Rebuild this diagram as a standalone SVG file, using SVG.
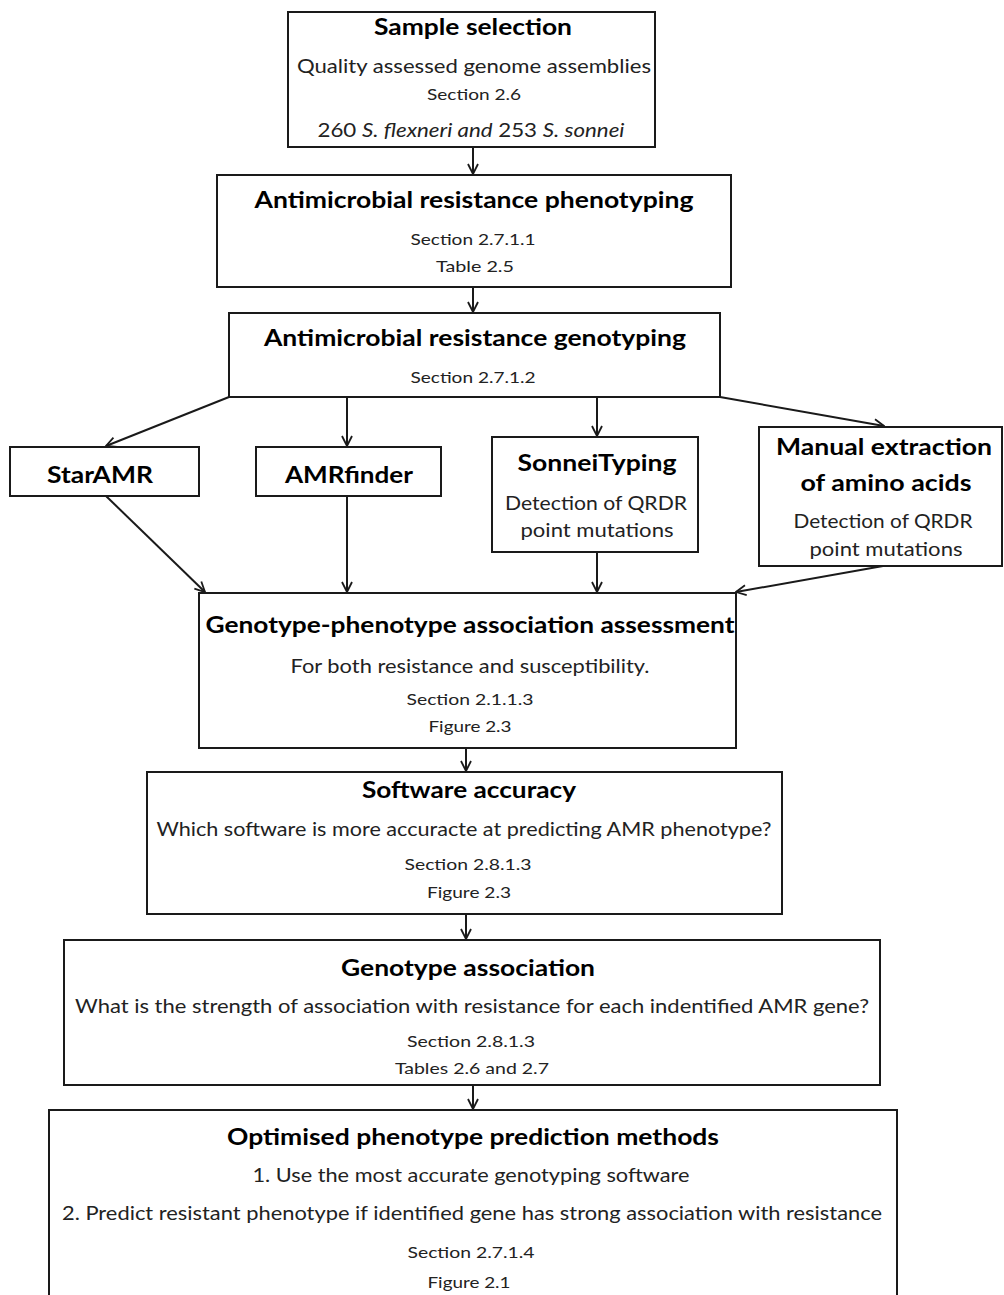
<svg xmlns="http://www.w3.org/2000/svg" width="1004" height="1295" viewBox="0 0 1004 1295">
<style>
.box{fill:#fff;stroke:#1a1a1a;stroke-width:2}
text{font-family:Lato,"Open Sans","Liberation Sans",sans-serif;text-anchor:middle}
.t{font-size:22px;font-weight:bold;fill:#000}
.b{font-size:19px;fill:#222}
.s{font-size:16px;fill:#222}
.it{font-style:italic}
.c{stroke:#1a1a1a;stroke-width:2;fill:none;marker-end:url(#ah)}
</style>
<defs>
<marker id="ah" viewBox="0 0 12 12" refX="11" refY="6" markerWidth="12" markerHeight="12" markerUnits="userSpaceOnUse" orient="auto">
<path d="M1,1 L11,6 L1,11" fill="none" stroke="#1a1a1a" stroke-width="1.8"/>
</marker>
</defs>
<rect width="1004" height="1295" fill="#fff"/>
<g id="connectors">
<line class="c" x1="473" y1="147" x2="473" y2="174"/>
<line class="c" x1="473" y1="287" x2="473" y2="312"/>
<line class="c" x1="229" y1="397" x2="106" y2="446"/>
<line class="c" x1="347" y1="397" x2="347" y2="446"/>
<line class="c" x1="597" y1="397" x2="597" y2="436"/>
<line class="c" x1="720" y1="397" x2="884" y2="426"/>
<line class="c" x1="106" y1="496" x2="205" y2="592"/>
<line class="c" x1="347" y1="496" x2="347" y2="592"/>
<line class="c" x1="597" y1="552" x2="597" y2="592"/>
<line class="c" x1="883" y1="566" x2="736" y2="592"/>
<line class="c" x1="466" y1="748" x2="466" y2="771"/>
<line class="c" x1="466" y1="914" x2="466" y2="939"/>
<line class="c" x1="473" y1="1085" x2="473" y2="1109"/>
</g>
<g id="sample-selection">
<rect class="box" x="288" y="12" width="367" height="135"/>
<text class="t" x="473" y="35" textLength="198" lengthAdjust="spacingAndGlyphs">Sample selection</text>
<text class="b" x="474" y="73" textLength="354" lengthAdjust="spacingAndGlyphs">Quality assessed genome assemblies</text>
<text class="s" x="474" y="100" textLength="94" lengthAdjust="spacingAndGlyphs">Section 2.6</text>
<text class="b" x="471" y="137" textLength="307" lengthAdjust="spacingAndGlyphs">260 <tspan class="it">S. flexneri and</tspan> 253 <tspan class="it">S. sonnei</tspan></text>
</g>
<g id="amr-phenotyping">
<rect class="box" x="217" y="175" width="514" height="112"/>
<text class="t" x="474" y="208" textLength="439" lengthAdjust="spacingAndGlyphs">Antimicrobial resistance phenotyping</text>
<text class="s" x="473" y="245" textLength="125" lengthAdjust="spacingAndGlyphs">Section 2.7.1.1</text>
<text class="s" x="475" y="272" textLength="78" lengthAdjust="spacingAndGlyphs">Table 2.5</text>
</g>
<g id="amr-genotyping">
<rect class="box" x="229" y="313" width="491" height="84"/>
<text class="t" x="475" y="346" textLength="422" lengthAdjust="spacingAndGlyphs">Antimicrobial resistance genotyping</text>
<text class="s" x="473" y="383" textLength="125" lengthAdjust="spacingAndGlyphs">Section 2.7.1.2</text>
</g>
<g id="staramr">
<rect class="box" x="10" y="447" width="189" height="49"/>
<text class="t" x="100" y="483" textLength="106" lengthAdjust="spacingAndGlyphs">StarAMR</text>
</g>
<g id="amrfinder">
<rect class="box" x="256" y="447" width="185" height="49"/>
<text class="t" x="349" y="483" textLength="128" lengthAdjust="spacingAndGlyphs">AMRfinder</text>
</g>
<g id="sonneityping">
<rect class="box" x="492" y="437" width="206" height="115"/>
<text class="t" x="597" y="471" textLength="159" lengthAdjust="spacingAndGlyphs">SonneiTyping</text>
<text class="b" x="596" y="510" textLength="182" lengthAdjust="spacingAndGlyphs">Detection of QRDR</text>
<text class="b" x="597" y="537" textLength="153" lengthAdjust="spacingAndGlyphs">point mutations</text>
</g>
<g id="manual-extraction">
<rect class="box" x="759" y="427" width="243" height="139"/>
<text class="t" x="884" y="455" textLength="216" lengthAdjust="spacingAndGlyphs">Manual extraction</text>
<text class="t" x="886" y="491" textLength="171" lengthAdjust="spacingAndGlyphs">of amino acids</text>
<text class="b" x="883" y="528" textLength="179" lengthAdjust="spacingAndGlyphs">Detection of QRDR</text>
<text class="b" x="886" y="556" textLength="153" lengthAdjust="spacingAndGlyphs">point mutations</text>
</g>
<g id="genotype-phenotype">
<rect class="box" x="199" y="593" width="537" height="155"/>
<text class="t" x="470" y="633" textLength="529" lengthAdjust="spacingAndGlyphs">Genotype-phenotype association assessment</text>
<text class="b" x="470" y="673" textLength="359" lengthAdjust="spacingAndGlyphs">For both resistance and susceptibility.</text>
<text class="s" x="470" y="705" textLength="127" lengthAdjust="spacingAndGlyphs">Section 2.1.1.3</text>
<text class="s" x="470" y="732" textLength="83" lengthAdjust="spacingAndGlyphs">Figure 2.3</text>
</g>
<g id="software-accuracy">
<rect class="box" x="147" y="772" width="635" height="142"/>
<text class="t" x="469" y="798" textLength="214" lengthAdjust="spacingAndGlyphs">Software accuracy</text>
<text class="b" x="464" y="836" textLength="615" lengthAdjust="spacingAndGlyphs">Which software is more accuracte at predicting AMR phenotype?</text>
<text class="s" x="468" y="870" textLength="127" lengthAdjust="spacingAndGlyphs">Section 2.8.1.3</text>
<text class="s" x="469" y="898" textLength="84" lengthAdjust="spacingAndGlyphs">Figure 2.3</text>
</g>
<g id="genotype-association">
<rect class="box" x="64" y="940" width="816" height="145"/>
<text class="t" x="468" y="976" textLength="254" lengthAdjust="spacingAndGlyphs">Genotype association</text>
<text class="b" x="472" y="1013" textLength="794" lengthAdjust="spacingAndGlyphs">What is the strength of association with resistance for each indentified AMR gene?</text>
<text class="s" x="471" y="1047" textLength="128" lengthAdjust="spacingAndGlyphs">Section 2.8.1.3</text>
<text class="s" x="472" y="1074" textLength="154" lengthAdjust="spacingAndGlyphs">Tables 2.6 and 2.7</text>
</g>
<g id="optimised-prediction">
<rect class="box" x="49" y="1110" width="848" height="200"/>
<text class="t" x="473" y="1145" textLength="492" lengthAdjust="spacingAndGlyphs">Optimised phenotype prediction methods</text>
<text class="b" x="471" y="1182" textLength="437" lengthAdjust="spacingAndGlyphs">1. Use the most accurate genotyping software</text>
<text class="b" x="472" y="1220" textLength="820" lengthAdjust="spacingAndGlyphs">2. Predict resistant phenotype if identified gene has strong association with resistance</text>
<text class="s" x="471" y="1258" textLength="127" lengthAdjust="spacingAndGlyphs">Section 2.7.1.4</text>
<text class="s" x="469" y="1288" textLength="83" lengthAdjust="spacingAndGlyphs">Figure 2.1</text>
</g>
</svg>
